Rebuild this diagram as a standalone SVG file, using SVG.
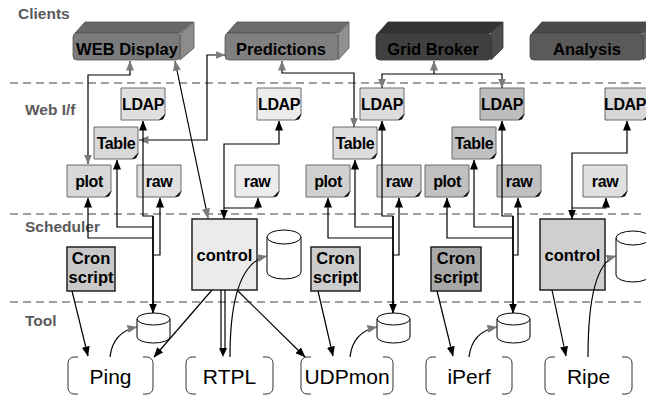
<svg xmlns="http://www.w3.org/2000/svg" xmlns:xlink="http://www.w3.org/1999/xlink" width="646" height="396" viewBox="0 0 646 396">
  <style>
    .layer { font-family: "Liberation Sans", Arial, sans-serif; font-weight: bold; font-size: 15.5px; fill: #5a5a5a; }
    .client { font-family: "Liberation Sans", Arial, sans-serif; font-weight: bold; font-size: 16.5px; fill: #000; text-anchor: middle; }
    .doct { font-family: "Liberation Sans", Arial, sans-serif; font-weight: bold; font-size: 16px; letter-spacing: -0.4px; fill: #000; text-anchor: middle; }
    .sched { font-family: "Liberation Sans", Arial, sans-serif; font-weight: bold; font-size: 16.5px; fill: #000; text-anchor: middle; }
    .tool { font-family: "Liberation Sans", Arial, sans-serif; font-size: 21px; fill: #000; text-anchor: middle; }
    .toolbox { fill: none; stroke: #333; stroke-width: 1; }
    .sep { stroke: #808080; stroke-width: 1.5; stroke-dasharray: 8 5; fill: none; }
    .box { stroke: #222; stroke-width: 1.5; }
    .cyl { fill: #fff; stroke: #000; stroke-width: 1; }
    .ln { fill: none; stroke: #000; stroke-width: 1.2; }
    .trunk { fill: none; stroke: #000; stroke-width: 1.8; }
    .bk { marker-end: url(#ab); }
    .bks { marker-start: url(#ab); }
    .gy { marker-end: url(#ag); }
    .gys { marker-start: url(#ag); }
  </style>
  <defs>
    <marker id="ab" viewBox="0 0 10 8" refX="9.5" refY="4" markerWidth="10" markerHeight="8" markerUnits="userSpaceOnUse" orient="auto-start-reverse">
      <path d="M0,0 L10,4 L0,8 Z" fill="#000"/>
    </marker>
    <marker id="ag" viewBox="0 0 10 8" refX="9.5" refY="4" markerWidth="10" markerHeight="8" markerUnits="userSpaceOnUse" orient="auto-start-reverse">
      <path d="M0,0 L10,4 L0,8 Z" fill="#7a7a7a"/>
    </marker>
    <!-- document sheet with a curled bottom-right corner -->
    <symbol id="doc" overflow="visible">
      <path d="M0,0 H44 V26.5 L38.5,32 H0 Z" stroke="#6a6a6a" stroke-width="1"/>
      <path d="M38.5,32 L44,26.5 L42,31 Z" fill="#000" stroke="#000" stroke-width="0.6"/>
    </symbol>
  </defs>

  <rect width="646" height="396" fill="#fff"/>

  <!-- layer separators and layer names -->
  <g id="layers">
    <line class="sep" x1="10" y1="83" x2="641" y2="83"/>
    <line class="sep" x1="10" y1="214" x2="641" y2="214"/>
    <line class="sep" x1="10" y1="302" x2="641" y2="302"/>
    <text class="layer" x="18" y="19">Clients</text>
    <text class="layer" x="25" y="115">Web I/f</text>
    <text class="layer" x="25" y="232">Scheduler</text>
    <text class="layer" x="25" y="326">Tool</text>
  </g>

  <!-- client applications -->
  <g id="web-display">
    <polygon points="75,33 85,22 193,22 180,33" fill="#686868" stroke="#555" stroke-width="0.8"/>
    <polygon points="180,34 194,22 194,48 180,60" fill="#8c8c8c" stroke="#555" stroke-width="0.8"/>
    <rect x="73" y="33" width="107" height="27" rx="4" fill="#7b7b7b" stroke="#555" stroke-width="0.8"/>
    <text class="client" x="127" y="55">WEB Display</text>
  </g>
  <g id="predictions">
    <polygon points="227,33 237,22 349,22 338,33" fill="#6c6c6c" stroke="#555" stroke-width="0.8"/>
    <polygon points="338,34 349,22 349,48 338,60" fill="#909090" stroke="#555" stroke-width="0.8"/>
    <rect x="225" y="33" width="113" height="27" rx="4" fill="#808080" stroke="#555" stroke-width="0.8"/>
    <text class="client" x="281" y="55">Predictions</text>
  </g>
  <g id="grid-broker">
    <polygon points="378,33 388,22 503,22 491,33" fill="#333" stroke="#333" stroke-width="0.8"/>
    <polygon points="491,34 503,22 503,48 491,60" fill="#4d4d4d" stroke="#333" stroke-width="0.8"/>
    <rect x="376" y="33" width="115" height="27" rx="4" fill="#404040" stroke="#333" stroke-width="0.8"/>
    <text class="client" x="433" y="55">Grid Broker</text>
  </g>
  <g id="analysis">
    <polygon points="532,33 542,22 656,22 643,33" fill="#4a4a4a" stroke="#444" stroke-width="0.8"/>
    <polygon points="643,34 656,22 656,48 643,60" fill="#666" stroke="#444" stroke-width="0.8"/>
    <rect x="530" y="33" width="113" height="27" rx="4" fill="#5a5a5a" stroke="#444" stroke-width="0.8"/>
    <text class="client" x="587" y="55">Analysis</text>
  </g>

  <!-- web interface documents -->
  <g id="ldap-1"><use xlink:href="#doc" x="121" y="88" fill="#e0e0e0"/><text class="doct" x="143" y="110">LDAP</text></g>
  <g id="table-1"><use xlink:href="#doc" x="94" y="127" fill="#d8d8d8"/><text class="doct" x="116" y="149">Table</text></g>
  <g id="plot-1"><use xlink:href="#doc" x="67" y="165" fill="#d8d8d8"/><text class="doct" x="89" y="187">plot</text></g>
  <g id="raw-1"><use xlink:href="#doc" x="137" y="165" fill="#e0e0e0"/><text class="doct" x="159" y="187">raw</text></g>

  <g id="ldap-2"><use xlink:href="#doc" x="257" y="88" fill="#ececec"/><text class="doct" x="279" y="110">LDAP</text></g>
  <g id="raw-2"><use xlink:href="#doc" x="235" y="165" fill="#ececec"/><text class="doct" x="257" y="187">raw</text></g>

  <g id="ldap-3"><use xlink:href="#doc" x="360" y="88" fill="#dcdcdc"/><text class="doct" x="382" y="110">LDAP</text></g>
  <g id="table-3"><use xlink:href="#doc" x="333" y="127" fill="#dcdcdc"/><text class="doct" x="355" y="149">Table</text></g>
  <g id="plot-3"><use xlink:href="#doc" x="306" y="165" fill="#d0d0d0"/><text class="doct" x="328" y="187">plot</text></g>
  <g id="raw-3"><use xlink:href="#doc" x="377" y="165" fill="#d0d0d0"/><text class="doct" x="399" y="187">raw</text></g>

  <g id="ldap-4"><use xlink:href="#doc" x="480" y="88" fill="#bdbdbd"/><text class="doct" x="502" y="110">LDAP</text></g>
  <g id="table-4"><use xlink:href="#doc" x="452" y="127" fill="#c0c0c0"/><text class="doct" x="474" y="149">Table</text></g>
  <g id="plot-4"><use xlink:href="#doc" x="425" y="165" fill="#c0c0c0"/><text class="doct" x="447" y="187">plot</text></g>
  <g id="raw-4"><use xlink:href="#doc" x="497" y="165" fill="#c0c0c0"/><text class="doct" x="519" y="187">raw</text></g>

  <g id="ldap-5"><use xlink:href="#doc" x="605" y="88" fill="#d6d6d6"/><text class="doct" x="625" y="110" font-size="14.5">LDAP</text></g>
  <g id="raw-5"><use xlink:href="#doc" x="583" y="165" fill="#e0e0e0"/><text class="doct" x="605" y="187">raw</text></g>

  <!-- schedulers -->
  <g id="cron-1">
    <rect class="box" x="67" y="247" width="48" height="44" fill="#c8c8c8"/>
    <text class="sched" x="91" y="264">Cron</text>
    <text class="sched" x="91" y="283">script</text>
  </g>
  <g id="control-2">
    <rect class="box" x="192" y="219" width="65" height="71" fill="#ebebeb"/>
    <text class="sched" x="224.5" y="261">control</text>
  </g>
  <g id="cron-3">
    <rect class="box" x="311" y="247" width="49" height="44" fill="#cccccc"/>
    <text class="sched" x="335.5" y="264">Cron</text>
    <text class="sched" x="335.5" y="283">script</text>
  </g>
  <g id="cron-4">
    <rect class="box" x="431" y="247" width="50" height="44" fill="#a8a8a8"/>
    <text class="sched" x="456" y="264">Cron</text>
    <text class="sched" x="456" y="283">script</text>
  </g>
  <g id="control-5">
    <rect class="box" x="540" y="219" width="65" height="71" fill="#cfcfcf"/>
    <text class="sched" x="572.5" y="261">control</text>
  </g>

  <!-- data stores -->
  <g id="store-2">
    <path class="cyl" d="M267,237 V272 A17,7 0 0 0 301,272 V237"/>
    <ellipse class="cyl" cx="284" cy="237" rx="17" ry="7"/>
  </g>
  <g id="store-5">
    <path class="cyl" d="M616,238 V275 A17,7 0 0 0 650,275 V238"/>
    <ellipse class="cyl" cx="633" cy="238" rx="17" ry="7"/>
  </g>
  <g id="store-ping">
    <path class="cyl" d="M137,319 V337 A16.5,6 0 0 0 170,337 V319"/>
    <ellipse class="cyl" cx="153.5" cy="319" rx="16.5" ry="6"/>
  </g>
  <g id="store-udpmon">
    <path class="cyl" d="M377,319 V337 A16.5,6 0 0 0 410,337 V319"/>
    <ellipse class="cyl" cx="393.5" cy="319" rx="16.5" ry="6"/>
  </g>
  <g id="store-iperf">
    <path class="cyl" d="M497,319 V337 A16.5,6 0 0 0 530,337 V319"/>
    <ellipse class="cyl" cx="513.5" cy="319" rx="16.5" ry="6"/>
  </g>

  <!-- measurement tools -->
  <g id="ping">
    <path class="toolbox" d="M78,357 H74 A6,6 0 0 0 68,363 V388 A6,6 0 0 0 74,394 H78 M143,357 H147 A6,6 0 0 1 153,363 V388 A6,6 0 0 1 147,394 H143"/>
    <text class="tool" x="110.5" y="384">Ping</text>
  </g>
  <g id="rtpl">
    <path class="toolbox" d="M196,357 H192 A6,6 0 0 0 186,363 V388 A6,6 0 0 0 192,394 H196 M263,357 H267 A6,6 0 0 1 273,363 V388 A6,6 0 0 1 267,394 H263"/>
    <text class="tool" x="229.5" y="384">RTPL</text>
  </g>
  <g id="udpmon">
    <path class="toolbox" d="M311,357 H307 A6,6 0 0 0 301,363 V388 A6,6 0 0 0 307,394 H311 M383,357 H387 A6,6 0 0 1 393,363 V388 A6,6 0 0 1 387,394 H383"/>
    <text class="tool" x="347" y="384">UDPmon</text>
  </g>
  <g id="iperf">
    <path class="toolbox" d="M436,357 H432 A6,6 0 0 0 426,363 V388 A6,6 0 0 0 432,394 H436 M502,357 H506 A6,6 0 0 1 512,363 V388 A6,6 0 0 1 506,394 H502"/>
    <text class="tool" x="469" y="384">iPerf</text>
  </g>
  <g id="ripe">
    <path class="toolbox" d="M555,357 H551 A6,6 0 0 0 545,363 V388 A6,6 0 0 0 551,394 H555 M622,357 H626 A6,6 0 0 1 632,363 V388 A6,6 0 0 1 626,394 H622"/>
    <text class="tool" x="588.5" y="384">Ripe</text>
  </g>

  <!-- connectors -->
  <g id="connectors">
    <!-- client links -->
    <path class="ln gy gys" d="M88,164 V75 H130 V61"/>
    <path class="ln gy gys" d="M175,61 L208,218"/>
    <path class="ln gy gys" d="M139,140 H207 V55 H225"/>
    <path class="ln gy gys" d="M282,61 V73 H354 V127"/>
    <path class="ln gy gys" d="M382,88 V74 H502 V88"/>
    <path class="ln gy" d="M434,74 V61"/>

    <!-- Ping column: documents fed from the measurement store -->
    <path class="ln bks" d="M143,121 V216 H153"/>
    <path class="ln bks" d="M117,160 V227 H153"/>
    <path class="ln bks" d="M88,198 V238 H153"/>
    <path class="ln bks" d="M160,198 V255 H153"/>
    <path class="trunk bk" d="M153,216 V313"/>

    <!-- UDPmon column -->
    <path class="ln bks" d="M382,121 V216 H393"/>
    <path class="ln bks" d="M355,160 V227 H393"/>
    <path class="ln bks" d="M328,198 V238 H393"/>
    <path class="ln bks" d="M399,198 V255 H393"/>
    <path class="trunk bk" d="M393,216 V313"/>

    <!-- iPerf column -->
    <path class="ln bks" d="M502,121 V216 H513"/>
    <path class="ln bks" d="M474,160 V227 H513"/>
    <path class="ln bks" d="M447,198 V238 H513"/>
    <path class="ln bks" d="M518,198 V255 H513"/>
    <path class="trunk bk" d="M513,216 V313"/>

    <!-- RTPL control -->
    <path class="ln bk bks" d="M279,121 V144 H224 V219"/>
    <path class="ln bks" d="M258,198 V208 H224"/>
    <path class="ln bk" d="M212,290 L154,357"/>
    <line class="ln" x1="221" y1="290" x2="221" y2="350"/>
    <line class="ln" x1="225" y1="290" x2="225" y2="350"/>
    <polygon points="219,348 227,348 223,357" fill="#000"/>
    <path class="ln bk" d="M237,290 L305,357"/>
    <path class="ln gy" d="M230,357 C230,300 240,262 267,256"/>

    <!-- Ripe control -->
    <path class="ln bk bks" d="M627,121 V153 H572 V219"/>
    <path class="ln bks" d="M606,198 V208 H572"/>
    <path class="ln bk" d="M552,290 L566,356"/>
    <path class="ln gy" d="M588,357 C588,300 596,262 616,256"/>

    <!-- cron schedulers start the tools -->
    <path class="ln bk" d="M72,291 L88,356"/>
    <path class="ln bk" d="M318,291 L333,356"/>
    <path class="ln bk" d="M437,291 L453,356"/>

    <!-- tools write results to their stores -->
    <path class="ln gy" d="M110,357 C112,340 122,330 137,327"/>
    <path class="ln gy" d="M350,357 C352,340 362,330 377,327"/>
    <path class="ln gy" d="M469,357 C471,340 481,330 497,327"/>
  </g>
</svg>
